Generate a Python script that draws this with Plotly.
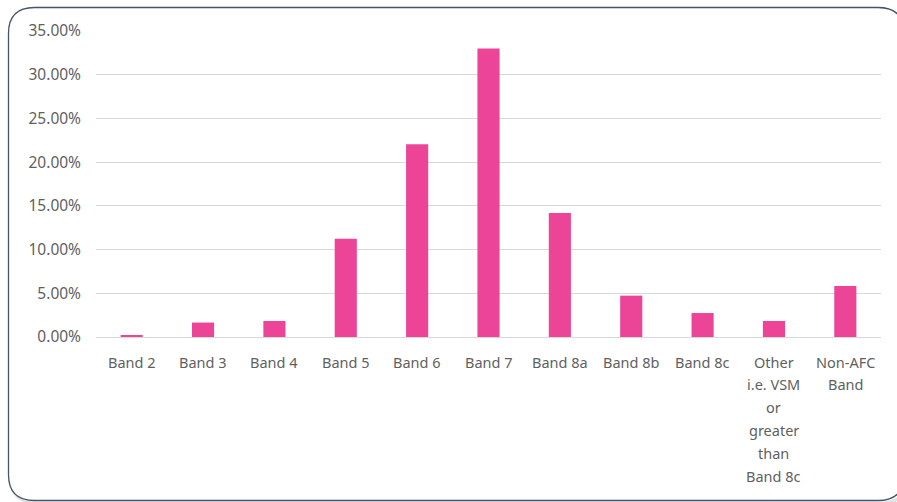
import plotly.graph_objects as go

categories = ["Band 2", "Band 3", "Band 4", "Band 5", "Band 6", "Band 7",
              "Band 8a", "Band 8b", "Band 8c",
              "Other<br>i.e. VSM<br>or<br>greater<br>than<br>Band 8c",
              "Non-AFC<br>Band"]
values = [0.0015, 0.0165, 0.0183, 0.1125, 0.2205, 0.3300,
          0.1418, 0.0473, 0.0274, 0.0183, 0.0583]
tick_vals = [0, 0.05, 0.10, 0.15, 0.20, 0.25, 0.30, 0.35]
tick_text = ["0.00%", "5.00%", "10.00%", "15.00%", "20.00%", "25.00%", "30.00%", "35.00%"]

W, H = 897, 502
ML, MR, MT, MB = 96, 16, 31, 165
PW, PH = W - ML - MR, H - MT - MB
FONT = "Noto Sans"
GREY = "#5f5f5f"

fig = go.Figure()
fig.add_trace(go.Bar(x=list(range(len(categories))), y=values,
                     marker=dict(color="#EC4497", line=dict(width=0)),
                     width=0.31, hoverinfo="skip"))

# category labels as multi-line annotations (Excel-like line spacing)
annotations = []
for i, lab in enumerate(categories):
    for j, line in enumerate(lab.split("<br>")):
        annotations.append(dict(x=i, y=0, xref="x", yref="paper", text=line,
                                showarrow=False, yanchor="middle",
                                yshift=-(24.5 + j * 22.9),
                                font=dict(family=FONT, size=14.5, color=GREY)))

def px(x):
    return (x - ML) / PW

def py(y):
    return (H - MB - y) / PH

def rounded_path(x0, y0, x1, y1, r):
    pts = [
        f"M {px(x0 + r)} {py(y0)}",
        f"L {px(x1 - r)} {py(y0)}",
        f"Q {px(x1)} {py(y0)} {px(x1)} {py(y0 + r)}",
        f"L {px(x1)} {py(y1 - r)}",
        f"Q {px(x1)} {py(y1)} {px(x1 - r)} {py(y1)}",
        f"L {px(x0 + r)} {py(y1)}",
        f"Q {px(x0)} {py(y1)} {px(x0)} {py(y1 - r)}",
        f"L {px(x0)} {py(y0 + r)}",
        f"Q {px(x0)} {py(y0)} {px(x0 + r)} {py(y0)}",
        "Z",
    ]
    return " ".join(pts)

shapes = [
    dict(type="path", xref="paper", yref="paper",
         path=rounded_path(11, 10, 907, 503, 26),
         line=dict(color="rgba(0,0,0,0.12)", width=3), layer="below"),
    dict(type="path", xref="paper", yref="paper",
         path=rounded_path(8.5, 7.5, 904, 500.5, 26),
         line=dict(color="#44546A", width=1.3), fillcolor="white", layer="below"),
]

fig.update_layout(
    width=W, height=H,
    margin=dict(l=ML, r=MR, t=MT, b=MB),
    paper_bgcolor="white", plot_bgcolor="rgba(0,0,0,0)",
    showlegend=False,
    bargap=0.69,
    annotations=annotations,
    shapes=shapes,
    xaxis=dict(range=[-0.5, len(categories) - 0.5], showticklabels=False,
               showgrid=False, zeroline=False, showline=False, ticks=""),
    yaxis=dict(range=[0, 0.35], tickvals=tick_vals, ticktext=tick_text,
               showgrid=True, gridcolor="#D9D9D9", gridwidth=1,
               zeroline=True, zerolinecolor="#D9D9D9", zerolinewidth=1,
               showline=False, ticks="", ticklabelstandoff=14,
               tickfont=dict(family=FONT, size=15.5, color=GREY)),
)

fig.write_html("out.html", config={"displayModeBar": False},
               post_script="document.body.style.margin='0';document.body.style.overflow='hidden';")
